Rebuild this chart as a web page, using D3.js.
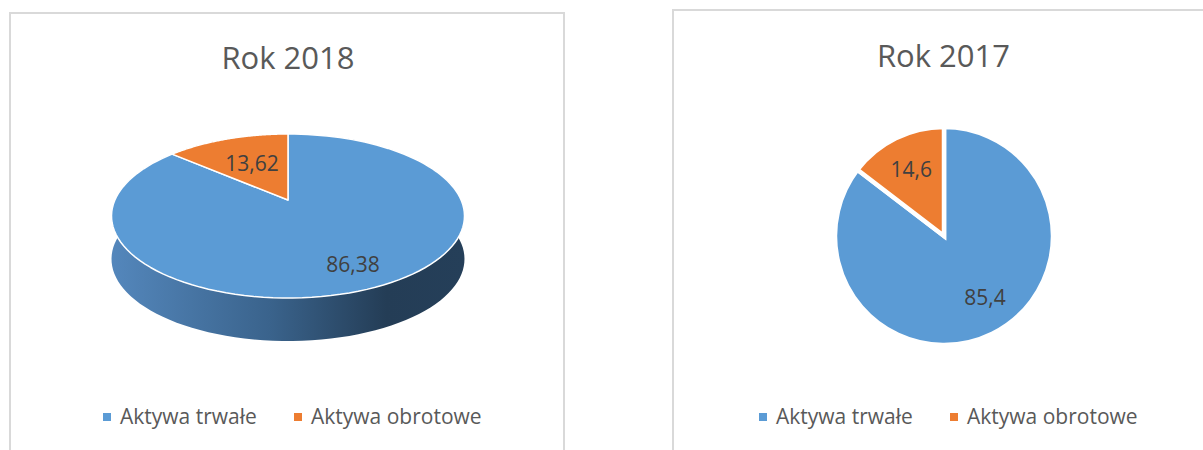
<!DOCTYPE html>
<html>
<head>
<meta charset="utf-8">
<script src="https://cdn.jsdelivr.net/npm/d3@7"></script>
<style>
  html, body { margin: 0; padding: 0; background: #fff; }
  svg { display: block; font-family: "Open Sans", "Noto Sans", sans-serif; }
</style>
</head>
<body>
<svg id="chart" width="1203" height="450"></svg>
<script>
// ---- data ----
const categories = ["Aktywa trwałe", "Aktywa obrotowe"];
const titles = ["Rok 2018", "Rok 2017"];
const values2018 = [86.38, 13.62];
const values2017 = [85.4, 14.6];

// ---- styles ----
const colors = ["#5B9BD5", "#ED7D31"];
const titleColor = "#595959";
const labelColor = "#404040";
const borderColor = "#D9D9D9";
const fmt = v => String(v).replace(".", ",");

const svg = d3.select("#chart");
const defs = svg.append("defs");

const color = d3.scaleOrdinal().domain(categories).range(colors);
const pie = d3.pie().sort(null).value(d => d.value);

// panel borders
svg.append("rect").attr("x", 10).attr("y", 13).attr("width", 554).attr("height", 460)
  .attr("fill", "none").attr("stroke", borderColor).attr("stroke-width", 2);
svg.append("rect").attr("x", 673).attr("y", 10).attr("width", 560).attr("height", 460)
  .attr("fill", "none").attr("stroke", borderColor).attr("stroke-width", 2);

// ---------- Left: 3D pie 2018 ----------
(function () {
  const g = svg.append("g");
  const cx = 288, cy = 200, A = 173.1, B = 78.9, k = 0.195, depth = 43;
  const proj = (rho, a) => {
    const u = rho * Math.sin(a), v = -rho * Math.cos(a);
    const w = 1 - k * v;
    return [cx + A * u / w, cy + B * v / w];
  };
  const data = categories.map((c, i) => ({ cat: c, value: values2018[i] }));
  const arcs = pie(data);
  const arcPts = (a0, a1, n = 120) => d3.range(n + 1).map(i => proj(1, a0 + (a1 - a0) * i / n));

  const grad = defs.append("linearGradient").attr("id", "side2018")
    .attr("gradientUnits", "userSpaceOnUse").attr("x1", 111).attr("x2", 464).attr("y1", 0).attr("y2", 0);
  [[0, "#5487BC"], [0.45, "#3A638C"], [0.78, "#243D56"], [1, "#253F59"]]
    .forEach(([o, c]) => grad.append("stop").attr("offset", o).attr("stop-color", c));
  const gradO = defs.append("linearGradient").attr("id", "side2018o")
    .attr("gradientUnits", "userSpaceOnUse").attr("x1", 111).attr("x2", 464).attr("y1", 0).attr("y2", 0);
  [[0, "#B5612A"], [1, "#6E3A17"]].forEach(([o, c]) => gradO.append("stop").attr("offset", o).attr("stop-color", c));

  // sides
  g.selectAll("path.side").data(arcs).join("path").attr("class", "side")
    .attr("d", d => {
      const top = arcPts(d.startAngle, d.endAngle);
      const bot = top.map(([x, y]) => [x, y + depth]).reverse();
      return d3.line()(top.concat(bot)) + "Z";
    })
    .attr("fill", (d, i) => i === 0 ? "url(#side2018)" : "url(#side2018o)");

  // top faces
  g.selectAll("path.top").data(arcs).join("path").attr("class", "top")
    .attr("d", d => d3.line()([[cx, cy]].concat(arcPts(d.startAngle, d.endAngle))) + "Z")
    .attr("fill", d => color(d.data.cat))
    .attr("stroke", "#fff").attr("stroke-width", 1.5).attr("stroke-linejoin", "round");

  // labels
  const labelRho = [0.78, 0.55];
  g.selectAll("text.lbl").data(arcs).join("text").attr("class", "lbl")
    .attr("x", (d, i) => proj(labelRho[i], (d.startAngle + d.endAngle) / 2)[0])
    .attr("y", (d, i) => proj(labelRho[i], (d.startAngle + d.endAngle) / 2)[1])
    .attr("dy", "0.35em").attr("text-anchor", "middle")
    .attr("font-size", 21).attr("fill", labelColor)
    .text(d => fmt(d.data.value));

  g.append("text").attr("x", 288).attr("y", 69).attr("text-anchor", "middle")
    .attr("font-size", 31).attr("fill", titleColor).text(titles[0]);
})();

// ---------- Right: 2D pie 2017 ----------
(function () {
  const cx = 944, cy = 236, r = 109;
  const g = svg.append("g").attr("transform", `translate(${cx},${cy})`);
  const data = categories.map((c, i) => ({ cat: c, value: values2017[i] }));
  const arcs = pie(data);
  const arc = d3.arc().innerRadius(0).outerRadius(r);
  g.selectAll("path").data(arcs).join("path")
    .attr("d", arc).attr("fill", d => color(d.data.cat))
    .attr("stroke", "#fff").attr("stroke-width", 4.5);
  const lblArc = d3.arc().innerRadius(0.68 * 107 * 2).outerRadius(0);
  const labelRho = [0.69, 0.69];
  g.selectAll("text").data(arcs).join("text")
    .attr("transform", (d, i) => {
      const a = (d.startAngle + d.endAngle) / 2 - (i === 0 ? 0.13 : 0);
      return `translate(${Math.sin(a) * labelRho[i] * 107},${-Math.cos(a) * labelRho[i] * 107})`;
    })
    .attr("dy", "0.35em").attr("text-anchor", "middle")
    .attr("font-size", 21).attr("fill", labelColor)
    .text(d => fmt(d.data.value));

  svg.append("text").attr("x", 943.5).attr("y", 67).attr("text-anchor", "middle")
    .attr("font-size", 31).attr("fill", titleColor).text(titles[1]);
})();

// ---------- legends ----------
function legend(x0, gapX) {
  const lg = svg.append("g").attr("transform", `translate(${x0},0)`);
  const items = lg.selectAll("g").data(categories).join("g")
    .attr("transform", (d, i) => `translate(${i * gapX},0)`);
  items.append("rect").attr("x", 0).attr("y", 413).attr("width", 8).attr("height", 8)
    .attr("fill", d => color(d));
  items.append("text").attr("x", 17).attr("y", 423.5).attr("font-size", 21)
    .attr("fill", titleColor).text(d => d);
}
legend(103, 191);
legend(759, 191);
</script>
</body>
</html>
